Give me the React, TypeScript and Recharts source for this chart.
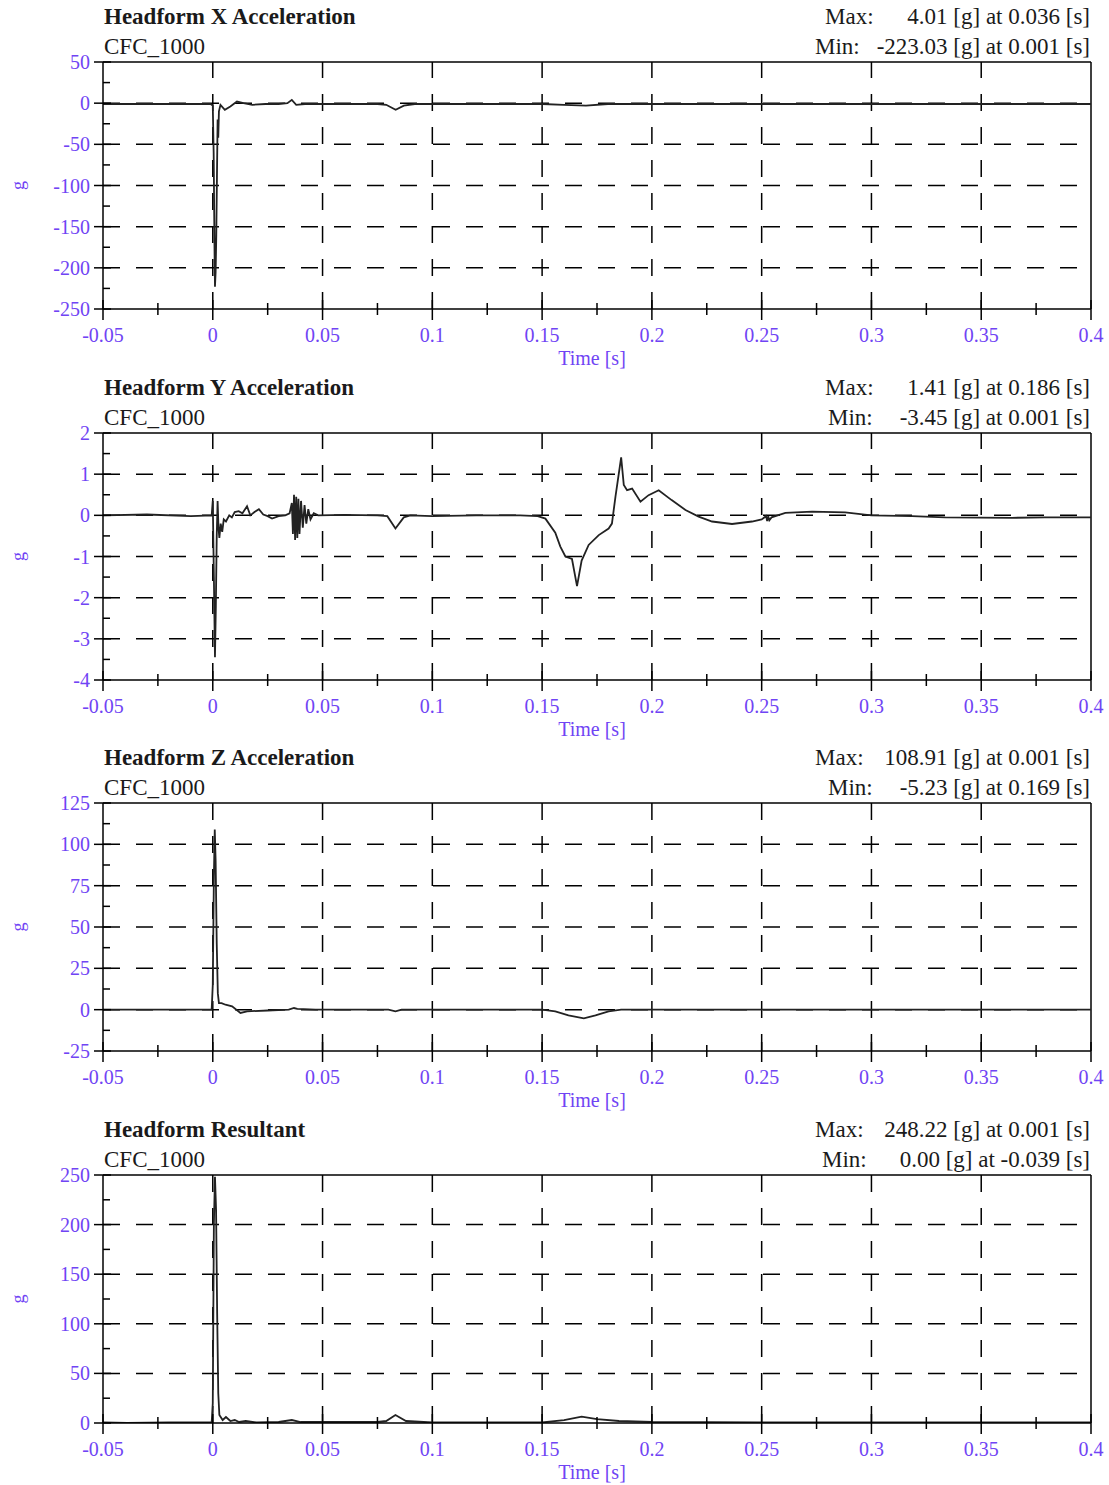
import React from "react";
import { LineChart, Line, XAxis, YAxis, ReferenceLine } from "recharts";

// shared time axis
const timeTicks = [-0.05, 0, 0.05, 0.1, 0.15, 0.2, 0.25, 0.3, 0.35, 0.4];
const timeTickLabels = ["-0.05", "0", "0.05", "0.1", "0.15", "0.2", "0.25", "0.3", "0.35", "0.4"];
const timeMinor = [-0.025, 0.025, 0.075, 0.125, 0.175, 0.225, 0.275, 0.325, 0.375];

// Headform X
const xTime = [-0.05, -0.03, -0.01, -0.001, 0, 0.0004, 0.0008, 0.001, 0.0013, 0.0016, 0.0019, 0.0022, 0.0025, 0.0028, 0.0035, 0.0055, 0.008, 0.011, 0.014, 0.018, 0.024, 0.03, 0.034, 0.036, 0.038, 0.042, 0.05, 0.06, 0.075, 0.079, 0.0833, 0.087, 0.092, 0.1, 0.12, 0.15, 0.16, 0.17, 0.18, 0.2, 0.25, 0.3, 0.35, 0.4];
const xAccel = [-1, -1, -1, -1, -3, -60, -180, -223, -205, -160, -90, -20, -42, -10, -2, -8, -4, 2, 0, -2, -1, -1, 0, 4, -2, -1, -1, -1, -1, -2, -8, -3, -1, -1, -1, -1, -2, -3, -1, -1, -1, -1, -1, -1];
const xTicks = [-250, -200, -150, -100, -50, 0, 50];
const xMinor = [-225, -175, -125, -75, -25, 25];

// Headform Y
const yTime = [-0.05, -0.03, -0.01, -0.0005, 0, 0.0005, 0.001, 0.0014, 0.0018, 0.0022, 0.0026, 0.003, 0.0036, 0.0043, 0.005, 0.006, 0.0075, 0.0087, 0.01, 0.0118, 0.0135, 0.0156, 0.0171, 0.019, 0.021, 0.023, 0.025, 0.027, 0.03, 0.033, 0.035, 0.036, 0.0365, 0.037, 0.0375, 0.038, 0.0385, 0.039, 0.0395, 0.0402, 0.041, 0.0418, 0.0426, 0.0435, 0.0445, 0.046, 0.048, 0.06, 0.075, 0.0795, 0.0832, 0.087, 0.09, 0.1, 0.12, 0.14, 0.148, 0.1515, 0.156, 0.1583, 0.1606, 0.1636, 0.1659, 0.168, 0.1712, 0.1758, 0.1803, 0.1818, 0.1834, 0.186, 0.1872, 0.1887, 0.191, 0.1948, 0.1985, 0.2031, 0.209, 0.2153, 0.2213, 0.2274, 0.2365, 0.2456, 0.25, 0.252, 0.2525, 0.253, 0.2535, 0.2545, 0.2608, 0.273, 0.288, 0.3, 0.3185, 0.3336, 0.364, 0.379, 0.4];
const yAccel = [0, 0.02, -0.02, 0, 0.35, -1.5, -3.45, -2.2, -0.5, 0.35, -0.3, -0.55, -0.2, -0.4, -0.1, -0.15, 0, -0.05, 0.08, 0.1, 0.05, 0.22, 0, 0.08, 0.15, 0.02, -0.02, -0.08, -0.02, 0, 0.05, 0.3, -0.45, 0.5, -0.6, 0.45, -0.55, 0.4, -0.45, 0.35, -0.3, 0.25, -0.2, 0.15, -0.1, 0.05, 0, 0.01, 0, -0.02, -0.32, -0.05, 0, -0.02, 0, 0, -0.02, -0.08, -0.42, -0.76, -1.0, -1.06, -1.72, -1.1, -0.72, -0.48, -0.32, -0.2, 0.45, 1.41, 0.74, 0.61, 0.65, 0.33, 0.49, 0.61, 0.37, 0.13, -0.03, -0.15, -0.21, -0.15, -0.1, -0.02, -0.14, -0.02, -0.12, -0.05, 0.06, 0.09, 0.07, 0, -0.02, -0.05, -0.06, -0.05, -0.05];
const yTicks = [-4, -3, -2, -1, 0, 1, 2];
const yMinor = [-3.5, -2.5, -1.5, -0.5, 0.5, 1.5];

// Headform Z
const zTime = [-0.05, -0.01, -0.0005, 0, 0.0005, 0.0009, 0.0013, 0.0018, 0.0023, 0.0028, 0.004, 0.0058, 0.0088, 0.0126, 0.0156, 0.025, 0.0346, 0.037, 0.0385, 0.0468, 0.08, 0.0832, 0.086, 0.15, 0.156, 0.162, 0.169, 0.1743, 0.1803, 0.186, 0.25, 0.4];
const zAccel = [0, 0, 0, 15, 80, 108.9, 90, 40, 10, 4, 4, 3, 2, -2, -1, -0.5, 0, 1, 0.5, 0, 0, -1, 0, 0, -1, -3.5, -5.23, -3.5, -1, 0, 0, 0];
const zTicks = [-25, 0, 25, 50, 75, 100, 125];
const zMinor = [-12.5, 12.5, 37.5, 62.5, 87.5, 112.5];

// Headform resultant
const rTime = [-0.05, -0.039, -0.02, -0.0005, 0, 0.0005, 0.001, 0.0015, 0.002, 0.0025, 0.003, 0.0045, 0.006, 0.008, 0.01, 0.012, 0.015, 0.02, 0.03, 0.036, 0.04, 0.05, 0.075, 0.079, 0.0832, 0.088, 0.1, 0.15, 0.16, 0.168, 0.175, 0.185, 0.2, 0.25, 0.3, 0.4];
const rAccel = [0.5, 0, 0.5, 0.5, 20, 200, 248.2, 215, 110, 30, 8, 3, 6, 2, 3, 1, 2, 0.5, 1, 3, 1, 1, 1, 2, 8, 2, 0.5, 0.5, 3, 6.4, 4, 2, 1, 0.5, 0.5, 0.5];
const rTicks = [0, 50, 100, 150, 200, 250];
const rMinor = [25, 75, 125, 175, 225];

const titles = ["Headform X Acceleration", "Headform Y Acceleration", "Headform Z Acceleration", "Headform Resultant"];
const maxTexts = ["4.01 [g] at 0.036 [s]", "1.41 [g] at 0.186 [s]", "108.91 [g] at 0.001 [s]", "248.22 [g] at 0.001 [s]"];
const minTexts = ["-223.03 [g] at 0.001 [s]", "-3.45 [g] at 0.001 [s]", "-5.23 [g] at 0.169 [s]", "0.00 [g] at -0.039 [s]"];

const panels = [
  { time: xTime, values: xAccel, major: xTicks, minor: xMinor, top: 62, h: 247, maxX: 825, minX: 815 },
  { time: yTime, values: yAccel, major: yTicks, minor: yMinor, top: 433, h: 247, maxX: 825, minX: 828 },
  { time: zTime, values: zAccel, major: zTicks, minor: zMinor, top: 803, h: 248, maxX: 815, minX: 828 },
  { time: rTime, values: rAccel, major: rTicks, minor: rMinor, top: 1175, h: 248, maxX: 815, minX: 822 },
];

const W = 1109;
const SERIF = "'Liberation Serif', 'Times New Roman', serif";
const BLUE = "#7044f4";
const DASH = "17 16";

const isIn = (arr: number[], v: number) => arr.findIndex((a) => Math.abs(a - v) < 1e-9);

const XTick = (props: any) => {
  const { x, y, payload } = props;
  const i = isIn(timeTicks, payload.value);
  if (i < 0) {
    return <line x1={x} x2={x} y1={y - 6} y2={y + 6} stroke="#000" strokeWidth={1.5} />;
  }
  return (
    <g>
      <line x1={x} x2={x} y1={y - 9} y2={y + 11} stroke="#000" strokeWidth={1.5} />
      <text x={x} y={y + 33} textAnchor="middle" fontFamily={SERIF} fontSize={20} fill={BLUE}>
        {timeTickLabels[i]}
      </text>
    </g>
  );
};

const makeYTick = (major: number[]) => (props: any) => {
  const { x, y, payload } = props;
  const i = isIn(major, payload.value);
  if (i < 0) {
    return <line x1={x} x2={x + 7} y1={y} y2={y} stroke="#000" strokeWidth={1.5} />;
  }
  return (
    <g>
      <line x1={x - 9} x2={x + 8} y1={y} y2={y} stroke="#000" strokeWidth={1.5} />
      <text x={x - 13} y={y + 7} textAnchor="end" fontFamily={SERIF} fontSize={20} fill={BLUE}>
        {major[i]}
      </text>
    </g>
  );
};

function Panel({ p }: { p: (typeof panels)[number] }) {
  const data = p.time.map((t, i) => ({ t, v: p.values[i] }));
  const yMin = p.major[0];
  const yMax = p.major[p.major.length - 1];
  const inner = p.major.slice(1, -1);
  const innerT = timeTicks.slice(1, -1);
  return (
    <div style={{ position: "absolute", left: 0, top: p.top - 62 }}>
      <LineChart width={W} height={p.h + 124} data={data} margin={{ top: 62, right: 18, bottom: 0, left: 0 }}>
        <XAxis
          dataKey="t"
          type="number"
          domain={[-0.05, 0.4]}
          ticks={[...timeTicks, ...timeMinor]}
          interval={0}
          allowDataOverflow
          height={62}
          tickSize={0}
          tickMargin={0}
          tickLine={false}
          axisLine={{ stroke: "#000", strokeWidth: 1.5 }}
          tick={XTick}
        />
        <YAxis
          type="number"
          domain={[yMin, yMax]}
          ticks={[...p.major, ...p.minor]}
          interval={0}
          allowDataOverflow
          width={103}
          tickSize={0}
          tickMargin={0}
          tickLine={false}
          axisLine={{ stroke: "#000", strokeWidth: 1.5 }}
          tick={makeYTick(p.major)}
        />
        {inner.map((v) => (
          <ReferenceLine key={"h" + v} y={v} stroke="#000" strokeWidth={1.5} strokeDasharray={DASH} />
        ))}
        {innerT.map((v) => (
          <ReferenceLine key={"v" + v} x={v} stroke="#000" strokeWidth={1.5} strokeDasharray={DASH} />
        ))}
        <ReferenceLine y={yMax} stroke="#000" strokeWidth={1.5} />
        <ReferenceLine x={0.4} stroke="#000" strokeWidth={1.5} />
        <Line
          dataKey="v"
          type="linear"
          stroke="#222"
          strokeWidth={1.8}
          dot={false}
          isAnimationActive={false}
        />
      </LineChart>
    </div>
  );
}

export default function App() {
  return (
    <div style={{ position: "absolute", left: 0, top: 0, width: W, height: 1485, background: "#fff" }}>
      {panels.map((p, i) => (
        <Panel key={i} p={p} />
      ))}
      <svg width={W} height={1485} style={{ position: "absolute", left: 0, top: 0, pointerEvents: "none" }}>
        {panels.map((p, i) => {
          const bottom = p.top + p.h;
          const mid = p.top + p.h / 2;
          return (
            <g key={i} fontFamily={SERIF} fontSize={23}>
              <text x={104} y={p.top - 38} fontWeight="bold" fill="#1a1a1a">{titles[i]}</text>
              <text x={104} y={p.top - 8} fill="#1a1a1a">CFC_1000</text>
              <text x={p.maxX} y={p.top - 38} fill="#1a1a1a">Max:</text>
              <text x={1090} y={p.top - 38} textAnchor="end" fill="#1a1a1a">{maxTexts[i]}</text>
              <text x={p.minX} y={p.top - 8} fill="#1a1a1a">Min:</text>
              <text x={1090} y={p.top - 8} textAnchor="end" fill="#1a1a1a">{minTexts[i]}</text>
              <text x={592} y={bottom + 56} textAnchor="middle" fontSize={20} fill={BLUE}>Time [s]</text>
              <text x={24} y={mid} textAnchor="middle" fontSize={18} fill={BLUE} transform={`rotate(-90 24 ${mid})`}>g</text>
            </g>
          );
        })}
      </svg>
    </div>
  );
}
